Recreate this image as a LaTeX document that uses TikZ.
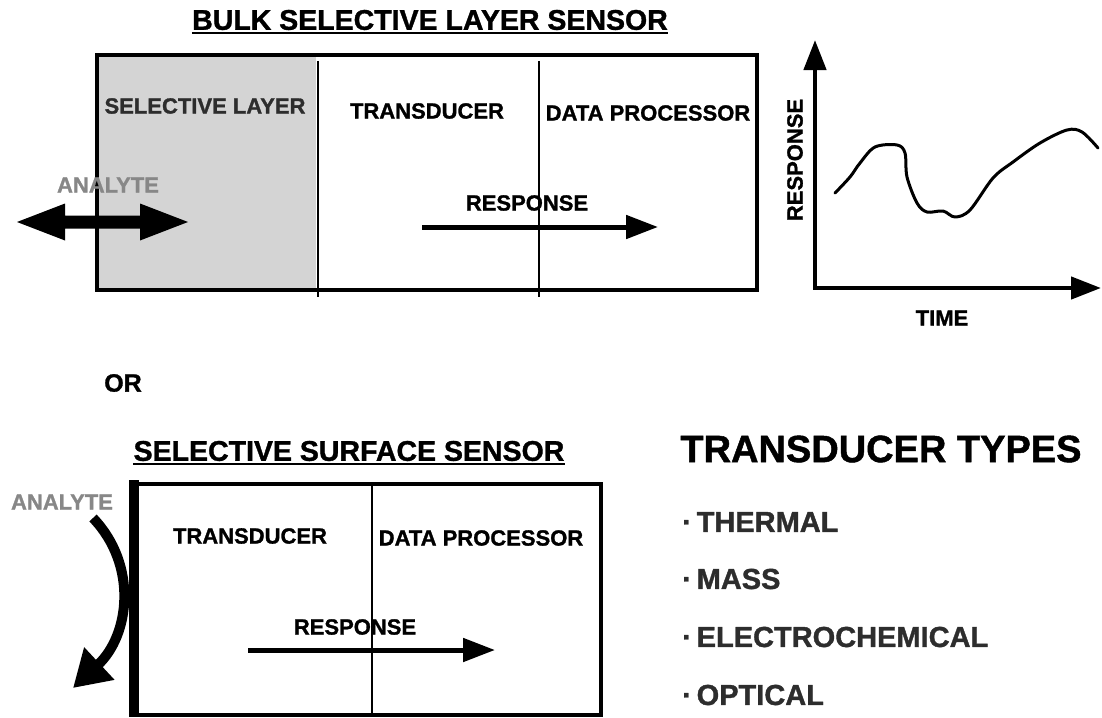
\documentclass[tikz,border=0pt]{standalone}
\usepackage{fontspec}
\setmainfont{Liberation Sans}[BoldFeatures={FakeBold=1.2}]
\usetikzlibrary{arrows.meta}
\definecolor{layergray}{RGB}{212,212,212}
\definecolor{darktxt}{RGB}{45,45,45}
\definecolor{analytegray}{RGB}{135,135,135}
\tikzset{
  lbl/.style={inner sep=0pt, font=\bfseries\fontsize{22}{26}\selectfont},
  ttl/.style={inner sep=0pt, font=\bfseries\fontsize{28.5}{32}\selectfont},
  item/.style={inner sep=0pt, anchor=west, text=darktxt, font=\bfseries\fontsize{29}{33}\selectfont},
  frame/.style={line width=4pt},
  divider/.style={line width=1.1pt},
  bigarrow/.style={line width=5pt, -{Triangle[length=32pt,width=23pt]}},
  axis/.style={line width=4.5pt, -{Triangle[length=30pt,width=22pt]}},
}
\begin{document}
\begin{tikzpicture}[x=1pt,y=-1pt]
\useasboundingbox (0,0) rectangle (1102,717);
\fill[white] (0,0) rectangle (1102,717);

% ---------- top: bulk selective layer sensor ----------
\node[ttl] (t1) at (430,20) {BULK SELECTIVE LAYER SENSOR};
\draw[line width=2pt] ([yshift=-3pt]t1.south west) -- ([yshift=-3pt]t1.south east);

\fill[layergray] (99,57) rectangle (316,288);
\draw[frame] (97,55) rectangle (757,290);
\coordinate (d1t) at (318,61); \coordinate (d1b) at (318,297);
\coordinate (d2t) at (539,61); \coordinate (d2b) at (539,297);
\draw[divider] (d1t) -- (d1b);
\draw[divider] (d2t) -- (d2b);

\node[lbl, text=darktxt] (sel) at (205,106) {SELECTIVE LAYER};
\node[lbl] (tr1) at (427,111) {TRANSDUCER};
\node[lbl] (dp1) at (648,113) {DATA PROCESSOR};
\node[lbl] (rs1) at (527,203) {RESPONSE};
\coordinate (ra1) at (422,227); \coordinate (rb1) at (658,227);
\draw[bigarrow] (ra1) -- (rb1);

\node[lbl, text=analytegray] (an1) at (108,185) {ANALYTE};
\fill (17,222) -- (65,203.5) -- (65,215.5) -- (140,215.5) -- (140,203.5)
  -- (188,222) -- (140,240.5) -- (140,228.5) -- (65,228.5) -- (65,240.5) -- cycle;

% ---------- graph ----------
\coordinate (org) at (815,288);
\coordinate (ytop) at (815,40);
\coordinate (xend) at (1101,288);
\draw[axis] ([yshift=2pt]org) -- (ytop);
\draw[axis] ([xshift=-2pt]org) -- (xend);
\node[lbl, rotate=90] (yl) at (795,160) {RESPONSE};
\node[lbl] (xl) at (942,318) {TIME};
\draw[line width=3pt, line join=round, line cap=round] plot[smooth, tension=0.55] coordinates {
 (835,193) (850,177) (860,163) (875,147) (897,145) (905,153) (907,177)
 (917,203) (927,212) (943,211) (955,217) (970,210) (993,178) (1013,162)
 (1040,143) (1067,130) (1082,132) (1098,148)};

% ---------- OR ----------
\node[lbl, font=\bfseries\fontsize{25}{29}\selectfont] (or) at (123,383) {OR};

% ---------- bottom: selective surface sensor ----------
\node[ttl] (t2) at (349,451) {SELECTIVE SURFACE SENSOR};
\draw[line width=2pt] ([yshift=-3pt]t2.south west) -- ([yshift=-3pt]t2.south east);

\draw[frame] (137,484) rectangle (601,715);
\fill (129,480) rectangle (139,717);
\coordinate (d3t) at (372,484); \coordinate (d3b) at (372,715);
\draw[divider] (d3t) -- (d3b);

\node[lbl] (tr2) at (250,536) {TRANSDUCER};
\node[lbl] (dp2) at (481,538) {DATA PROCESSOR};
\node[lbl] (rs2) at (355,627) {RESPONSE};
\coordinate (ra2) at (248,650); \coordinate (rb2) at (495,650);
\draw[bigarrow] (ra2) -- (rb2);

\node[lbl, text=analytegray] (an2) at (62,502) {ANALYTE};
\coordinate (ca) at (93,518);
\coordinate (cb) at (73,688);
\draw[line width=10pt, -{Triangle[length=36pt,width=42pt]}] (ca) .. controls (138,565) and (130,635) .. (cb);

% ---------- transducer types ----------
\node[inner sep=0pt, font=\bfseries\fontsize{38}{42}\selectfont] (tt) at (881,449) {TRANSDUCER TYPES};
\node[item] (i1) at (682,522) {·\,THERMAL};
\node[item] (i2) at (682,579) {·\,MASS};
\node[item] (i3) at (682,637) {·\,ELECTROCHEMICAL};
\node[item] (i4) at (682,695) {·\,OPTICAL};
\end{tikzpicture}
\end{document}
